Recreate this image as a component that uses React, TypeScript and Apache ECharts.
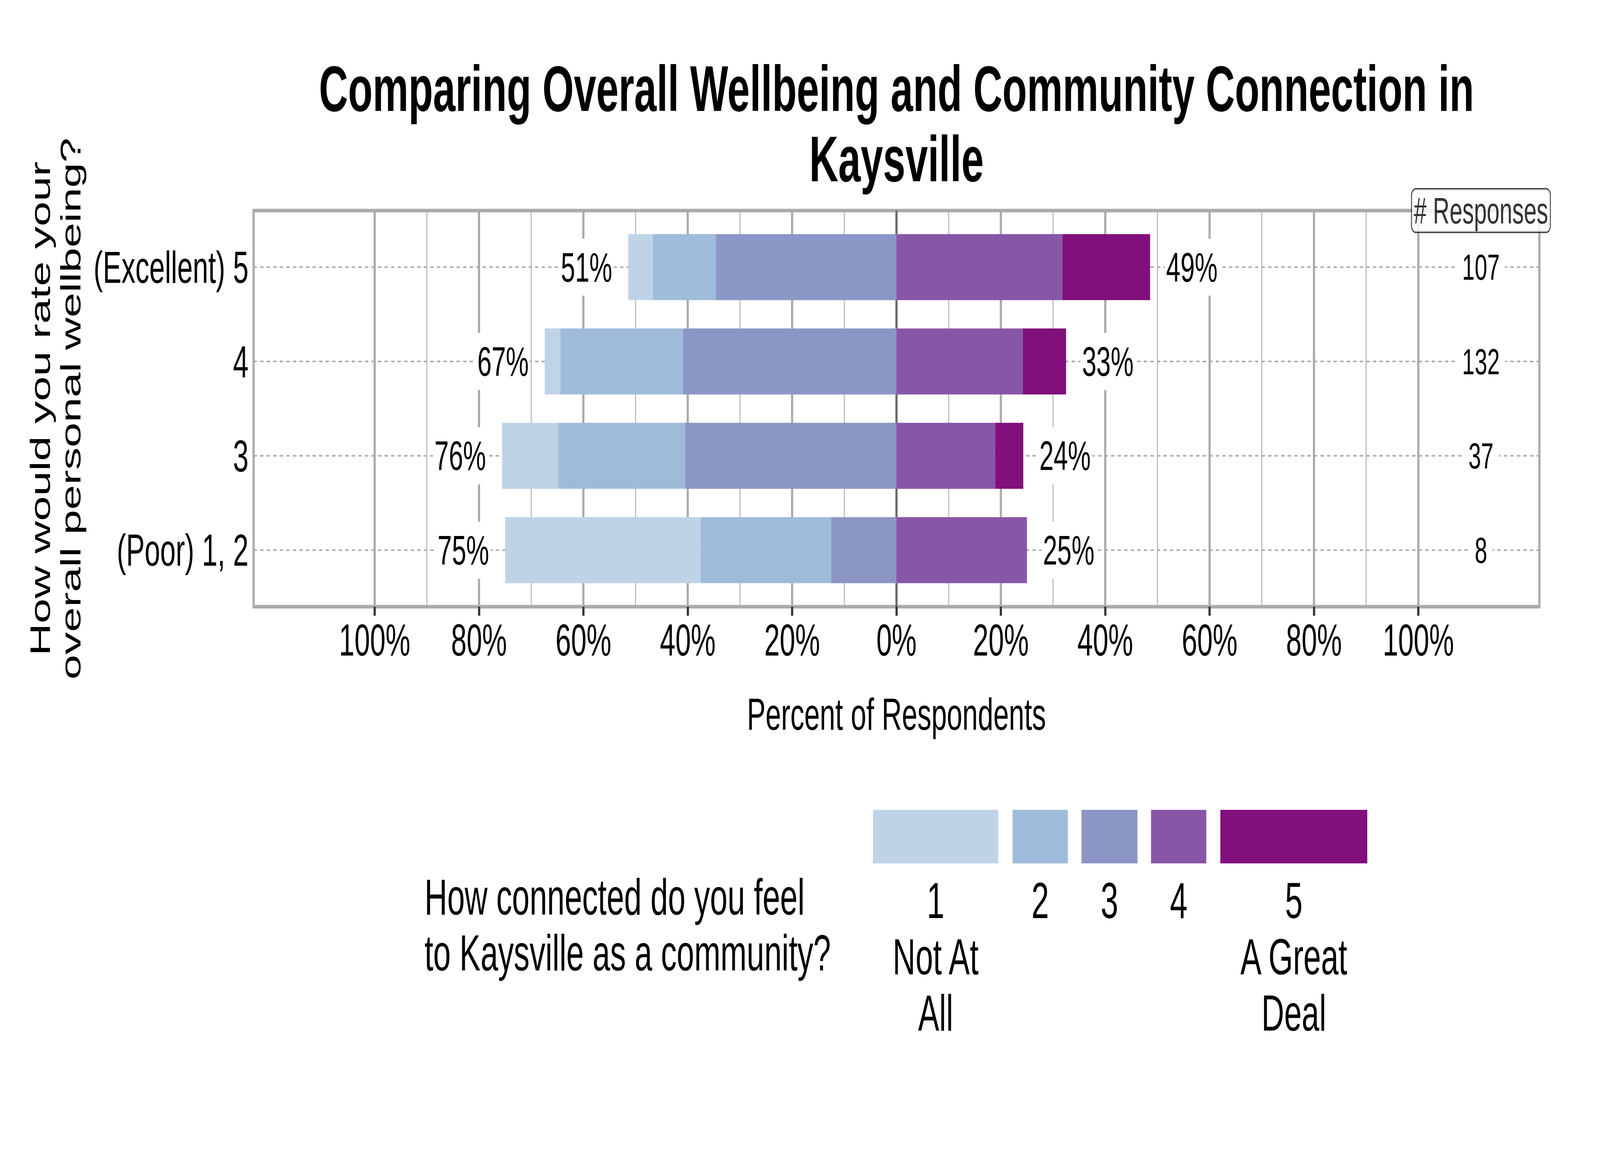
import React, { useEffect, useRef } from "react";
import * as echarts from "echarts";

// 字体：Arial 的度量兼容字体
const FONT = '"Liberation Sans", Arial, Helvetica, sans-serif';

// 行：问卷的总体幸福感评分（自上而下）
const CATEGORIES = ["(Excellent) 5", "4", "3", "(Poor) 1, 2"];

// 各行中各连接程度（1..5）所占百分比
const LEVEL_1 = [4.7, 3.0, 10.8, 37.5];
const LEVEL_2 = [12.1, 23.5, 24.3, 25.0];
const LEVEL_3 = [34.6, 40.9, 40.5, 12.5];
const LEVEL_4 = [31.8, 24.2, 18.9, 25.0];
const LEVEL_5 = [16.8, 8.3, 5.4, 0];

const LEFT_LABELS = ["51%", "67%", "76%", "75%"];
const RIGHT_LABELS = ["49%", "33%", "24%", "25%"];
const RESPONSES = [107, 132, 37, 8];

const MAJOR_TICKS = [-100, -80, -60, -40, -20, 0, 20, 40, 60, 80, 100];
const MINOR_TICKS = [-90, -70, -50, -30, -10, 10, 30, 50, 70, 90];

const LEGEND_TITLE = ["How connected do you feel", "to Kaysville as a community?"];
const LEVEL_LABELS = [["1", "Not At", "All"], ["2"], ["3"], ["4"], ["5", "A Great", "Deal"]];
const LEVEL_COLORS = ["#BFD3E6", "#9EBCDA", "#8C96C6", "#8856A7", "#810F7C"];

const TITLE = ["Comparing Overall Wellbeing and Community Connection in", "Kaysville"];
const Y_TITLE = ["How would you rate your", "overall personal wellbeing?"];
const X_TITLE = "Percent of Respondents";
const RESP_HEADER = "# Responses";
const RESP_X = 112;

// 版面（按 6600x3000 设计，窗口较小时整体缩放）
const W = 6600;
const H = 3000;
const GRID = { left: 1046, right: 250, top: 539, height: 1014 };
const X_RANGE = 123.2;
const BAR_HEIGHT = 0.7;
const LABEL_OFFSET = 8;
const LEGEND_KEYS = [
  [3601, 4118],
  [4177, 4405],
  [4461, 4692],
  [4748, 4976],
  [5034, 5640],
];

const yPos = (i: number) => CATEGORIES.length - i;

const App: React.FC = () => {
  const ref = useRef<HTMLDivElement>(null);
  const vw = typeof window !== "undefined" ? window.innerWidth : W;
  const vh = typeof window !== "undefined" ? window.innerHeight : H;
  const sx = Math.min(1, vw / W);
  const sy = Math.min(1, vh / H);

  useEffect(() => {
    document.body.style.margin = "0";
    document.body.style.overflow = "hidden";
    if (!ref.current) return;
    const chart = echarts.init(ref.current, undefined, { renderer: "svg" });

    const levels = [LEVEL_1, LEVEL_2, LEVEL_3, LEVEL_4, LEVEL_5];
    // 左侧：3 贴近 0，其次 2、1；右侧：4 贴近 0，其次 5
    const segments: number[][][] = levels.map(() => []);
    CATEGORIES.forEach((_, i) => {
      const y = yPos(i);
      let left = 0;
      [2, 1, 0].forEach((li) => {
        segments[li].push([-left, -(left + levels[li][i]), y]);
        left += levels[li][i];
      });
      let right = 0;
      [3, 4].forEach((li) => {
        if (levels[li][i] > 0) segments[li].push([right, right + levels[li][i], y]);
        right += levels[li][i];
      });
    });

    const barSeries = LEVEL_COLORS.map((color, li) => ({
      type: "custom",
      name: LEVEL_LABELS[li][0],
      z: 3,
      silent: true,
      encode: { x: [0, 1], y: 2 },
      data: segments[li],
      renderItem: (_p: any, api: any) => {
        const y = api.value(2);
        const a = api.coord([api.value(0), y]);
        const b = api.coord([api.value(1), y]);
        const h = api.size([0, BAR_HEIGHT])[1];
        return {
          type: "rect",
          shape: { x: Math.min(a[0], b[0]), y: a[1] - h / 2, width: Math.abs(b[0] - a[0]), height: h },
          style: { fill: color },
        };
      },
    }));

    const vLine = (values: number[], stroke: string, width: number, z: number) => ({
      type: "custom",
      z,
      silent: true,
      encode: { x: 0, y: 1 },
      data: values.map((v) => [v, 2.5]),
      renderItem: (params: any, api: any) => {
        const p = api.coord([api.value(0), api.value(1)]);
        const cs = params.coordSys;
        return {
          type: "line",
          shape: { x1: p[0], y1: cs.y, x2: p[0], y2: cs.y + cs.height },
          style: { stroke, lineWidth: width },
        };
      },
    });

    const dashed = {
      type: "custom",
      z: 1,
      silent: true,
      encode: { x: 0, y: 1 },
      data: CATEGORIES.map((_, i) => [0, yPos(i)]),
      renderItem: (params: any, api: any) => {
        const p = api.coord([api.value(0), api.value(1)]);
        const cs = params.coordSys;
        return {
          type: "line",
          shape: { x1: cs.x, y1: p[1], x2: cs.x + cs.width, y2: p[1] },
          style: { stroke: "#A9A9A9", lineWidth: 4, lineDash: [14, 13] },
        };
      },
    };

    const totalsLeft = CATEGORIES.map((_, i) => LEVEL_1[i] + LEVEL_2[i] + LEVEL_3[i]);
    const totalsRight = CATEGORIES.map((_, i) => LEVEL_4[i] + LEVEL_5[i]);

    const pctLabel = {
      show: true,
      position: "inside",
      fontSize: 106,
      fontFamily: FONT,
      color: "#000000",
      opacity: 1,
      textBorderWidth: 0,
      backgroundColor: "#ffffff",
      padding: [20, 6],
    };

    const graphic: any[] = [];
    TITLE.forEach((t, i) =>
      graphic.push({
        type: "text",
        x: 3698,
        y: 226 + i * 180,
        style: { text: t, fontSize: 166, fontWeight: "bold", fontFamily: FONT, fill: "#000", align: "center", verticalAlign: "middle" },
      })
    );
    Y_TITLE.forEach((t, i) =>
      graphic.push({
        type: "text",
        x: 166 + i * 126,
        y: 1046,
        rotation: Math.PI / 2,
        style: { text: t, fontSize: 115, fontFamily: FONT, fill: "#000", align: "center", verticalAlign: "middle" },
      })
    );
    graphic.push({
      type: "text",
      x: 3698,
      y: 1828,
      style: { text: X_TITLE, fontSize: 115, fontFamily: FONT, fill: "#000", align: "center", verticalAlign: "middle" },
    });
    LEGEND_TITLE.forEach((t, i) =>
      graphic.push({
        type: "text",
        x: 1751,
        y: 2296 + i * 143,
        style: { text: t, fontSize: 130, fontFamily: FONT, fill: "#000", align: "left", verticalAlign: "middle" },
      })
    );
    LEGEND_KEYS.forEach(([x0, x1], li) => {
      graphic.push({
        type: "rect",
        shape: { x: x0, y: 2073, width: x1 - x0, height: 137 },
        style: { fill: LEVEL_COLORS[li] },
      });
      LEVEL_LABELS[li].forEach((t, k) =>
        graphic.push({
          type: "text",
          x: (x0 + x1) / 2,
          y: 2305 + k * 144,
          style: { text: t, fontSize: 130, fontFamily: FONT, fill: "#000", align: "center", verticalAlign: "middle" },
        })
      );
    });

    chart.setOption({
      animation: false,
      backgroundColor: "#fff",
      grid: {
        ...GRID,
        show: true,
        borderColor: "#AAAAAA",
        borderWidth: 9,
        backgroundColor: "transparent",
      },
      xAxis: {
        type: "value",
        min: -X_RANGE,
        max: X_RANGE,
        axisLine: { show: false },
        splitLine: { show: false },
        axisTick: {
          show: true,
          customValues: MAJOR_TICKS,
          length: 23,
          lineStyle: { color: "#333333", width: 9 },
        },
        axisLabel: {
          customValues: MAJOR_TICKS,
          formatter: (v: number) => `${Math.abs(v)}%`,
          fontSize: 115,
          fontFamily: FONT,
          color: "#000",
          margin: 27,
        },
      },
      yAxis: {
        type: "value",
        min: 0.4,
        max: 4.6,
        axisLine: { show: false },
        axisTick: { show: false },
        splitLine: { show: false },
        axisLabel: {
          customValues: [1, 2, 3, 4],
          formatter: (v: number) => CATEGORIES[CATEGORIES.length - v] ?? "",
          fontSize: 115,
          fontFamily: FONT,
          color: "#000",
          margin: 21,
        },
      },
      graphic,
      series: [
        vLine(MINOR_TICKS, "#AAAAAA", 3.5, 1),
        vLine(MAJOR_TICKS.filter((v) => v !== 0), "#AAAAAA", 9, 1),
        vLine([0], "#696969", 9, 2),
        dashed,
        ...barSeries,
        {
          type: "scatter",
          z: 5,
          silent: true,
          symbolSize: 0,
          data: totalsLeft.map((t, i) => [-t - LABEL_OFFSET, yPos(i)]),
          label: { ...pctLabel, formatter: (p: any) => LEFT_LABELS[p.dataIndex] },
        },
        {
          type: "scatter",
          z: 5,
          silent: true,
          symbolSize: 0,
          data: totalsRight.map((t, i) => [t + LABEL_OFFSET, yPos(i)]),
          label: { ...pctLabel, formatter: (p: any) => RIGHT_LABELS[p.dataIndex] },
        },
        {
          type: "scatter",
          z: 5,
          silent: true,
          symbolSize: 0,
          data: RESPONSES.map((_, i) => [RESP_X, yPos(i)]),
          label: {
            ...pctLabel,
            fontSize: 93,
            padding: [20, 22],
            formatter: (p: any) => String(RESPONSES[p.dataIndex]),
          },
        },
        {
          type: "scatter",
          z: 6,
          silent: true,
          symbolSize: 0,
          data: [[RESP_X, 4.6]],
          label: {
            show: true,
            position: "inside",
            formatter: RESP_HEADER,
            fontSize: 95,
            lineHeight: 95,
            fontFamily: FONT,
            color: "#000000",
            textBorderWidth: 0,
            backgroundColor: "#ffffff",
            borderColor: "#000000",
            borderWidth: 3,
            borderRadius: 16,
            padding: [7, 8],
          },
        },
      ],
    });

    return () => chart.dispose();
  }, []);

  return (
    <div style={{ width: W * sx, height: H * sy, overflow: "hidden" }}>
      <div
        ref={ref}
        style={{ width: W, height: H, transform: `scale(${sx}, ${sy})`, transformOrigin: "0 0" }}
      />
    </div>
  );
};

export default App;
